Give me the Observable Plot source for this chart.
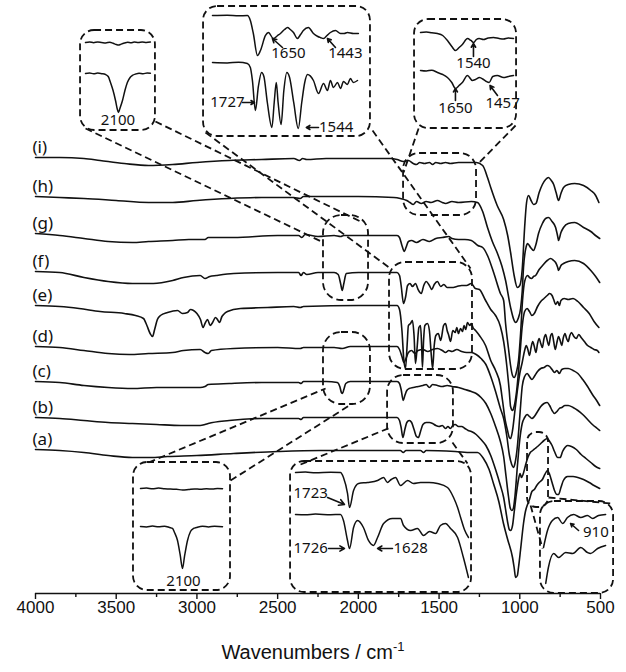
<!DOCTYPE html>
<html>
<head>
<meta charset="utf-8">
<script src="https://cdn.jsdelivr.net/npm/d3@7"></script>
<script src="https://cdn.jsdelivr.net/npm/@observablehq/plot@0.6"></script>
<style>
  body { margin: 0; background: #fff; }
  #wrap { position: relative; width: 626px; height: 672px; }
  #wrap svg { position: absolute; }
  .caption { position: absolute; left: 0; width: 626px; top: 639px; text-align: center;
             font: 20px "Liberation Sans", Arial, sans-serif; color: #111; }
  .caption sup { font-size: 13px; }
</style>
</head>
<body>
<div id="wrap"></div>
<script>
// ---- axis ticks (cm-1) ----
const majorTicks = [4000, 3500, 3000, 2500, 2000, 1500, 1000, 500];
const minorTicks = [3750, 3250, 2750, 2250, 1750, 1250, 750];

// ---- spectra: [wavenumber, relative transmittance (a.u.)], stacked by offset ----
const seriesIds = ["a", "b", "c", "d", "e", "f", "g", "h", "i"];
const seriesOffsets = [144, 176, 212, 247, 288, 322, 360, 397, 436];

const specA = [[4000,0],[3850,-1],[3700,-3],[3550,-6],[3400,-8],[3288,-8],[3182,-7],[3000,-6],[2773,-4],[2500,-2],[2234,-1],[2030,-1],[1800,-1],[1740,-1],[1722,-3],[1705,-1],[1615,-1],[1596,-3],[1580,-1],[1400,-2],[1300,-3],[1262,-3],[1225,-9],[1190,-20],[1163,-34],[1130,-52],[1101,-74],[1075,-90],[1045,-108],[1035,-118],[1026,-128],[1015,-126],[1008,-118],[995,-100],[977,-74],[965,-62],[952,-55],[940,-50],[925,-42],[910,-40],[895,-36],[880,-33],[860,-30],[845,-25],[828,-21],[815,-25],[800,-33],[785,-41],[770,-45],[760,-45],[745,-38],[730,-31],[704,-27],[670,-27],[640,-28],[605,-30],[570,-33],[540,-36],[505,-39]];

const specB = [[4000,0],[3850,-1],[3700,-3],[3550,-5],[3400,-6],[3250,-7],[3100,-8],[2980,-8],[2950,-7],[2930,-6],[2800,-3],[2600,-1],[2370,-1],[2355,-2],[2340,0],[1760,0],[1745,-3],[1735,-10],[1724,-20],[1712,-12],[1700,-5],[1685,-3],[1670,-5],[1655,-12],[1640,-19],[1628,-20],[1615,-14],[1600,-7],[1580,-5],[1560,-5],[1540,-6],[1520,-8],[1500,-9],[1480,-8],[1460,-11],[1445,-9],[1430,-11],[1415,-8],[1400,-7],[1380,-9],[1360,-9],[1340,-11],[1320,-13],[1300,-14],[1270,-17],[1240,-22],[1210,-28],[1180,-38],[1150,-52],[1120,-68],[1100,-80],[1085,-95],[1075,-105],[1065,-112],[1057,-113],[1045,-108],[1035,-95],[1020,-75],[1008,-62],[998,-56],[990,-60],[980,-57],[965,-48],[950,-40],[935,-35],[920,-33],[905,-31],[890,-29],[870,-26],[850,-23],[830,-21],[815,-24],[800,-28],[785,-34],[765,-40],[750,-40],[735,-34],[720,-30],[704,-28],[680,-29],[650,-32],[620,-37],[590,-41],[560,-45],[530,-49],[505,-51]];

const specC = [[4000,0],[3850,-1],[3700,-4],[3550,-6],[3400,-7],[3250,-6],[3100,-6],[2980,-6],[2950,-5],[2930,-3],[2800,-2],[2600,-1],[2370,-1],[2355,-2],[2340,0],[2200,0],[2130,-1],[2115,-5],[2105,-11],[2098,-12],[2090,-8],[2078,-2],[2050,0],[1760,0],[1745,-2],[1735,-8],[1722,-19],[1712,-14],[1700,-9],[1685,-7],[1660,-6],[1630,-5],[1600,-4],[1580,-3],[1560,-6],[1540,-3],[1510,-4],[1480,-5],[1450,-4],[1420,-5],[1380,-6],[1340,-8],[1300,-10],[1270,-12],[1240,-16],[1210,-22],[1180,-32],[1150,-45],[1120,-60],[1100,-75],[1085,-95],[1070,-115],[1060,-126],[1050,-129],[1040,-127],[1030,-115],[1015,-85],[1000,-58],[985,-42],[970,-36],[955,-33],[940,-35],[925,-37],[910,-35],[890,-30],[870,-25],[850,-22],[830,-21],[815,-24],[800,-29],[785,-32],[770,-30],[755,-27],[740,-26],[720,-24],[700,-24],[670,-26],[640,-29],[610,-33],[580,-38],[550,-43],[520,-47],[505,-49]];

const specD = [[4000,0],[3850,-1],[3700,-4],[3550,-7],[3420,-8],[3300,-7],[3150,-6],[3083,-4],[2980,-3],[2950,-6],[2930,-7],[2910,-4],[2773,-2],[2500,-1],[2360,-2],[2340,-1],[2150,-1],[2100,-2],[2050,0],[1760,0],[1745,-3],[1730,-10],[1718,-16],[1705,-12],[1690,-6],[1670,-4],[1650,-7],[1630,-4],[1600,-3],[1570,-5],[1540,-3],[1510,-2],[1480,-4],[1460,-6],[1440,-4],[1420,-5],[1390,-3],[1360,-5],[1330,-6],[1300,-6],[1270,-8],[1240,-12],[1210,-18],[1180,-30],[1150,-45],[1120,-62],[1100,-72],[1080,-90],[1065,-108],[1050,-118],[1040,-121],[1030,-117],[1015,-100],[1000,-70],[985,-40],[970,-30],[955,-27],[940,-30],[925,-33],[910,-30],[890,-25],[870,-22],[850,-21],[830,-19],[815,-20],[800,-23],[785,-26],[770,-24],[755,-27],[740,-23],[720,-22],[700,-22],[670,-24],[640,-27],[610,-33],[580,-40],[550,-48],[520,-55],[505,-59]];

const specE = [[4000,0],[3850,-1],[3730,-3],[3600,-6],[3450,-8],[3380,-10],[3331,-13],[3310,-20],[3290,-28],[3275,-31],[3262,-24],[3245,-14],[3226,-10],[3182,-7],[3120,-5],[3090,-8],[3058,-7],[3040,-4],[3021,-5],[3000,-8],[2978,-14],[2962,-22],[2950,-18],[2934,-14],[2918,-20],[2903,-17],[2885,-12],[2873,-14],[2860,-17],[2845,-11],[2835,-9],[2811,-6],[2730,-3],[2563,-2],[2400,-1],[2360,-2],[2340,-1],[2000,0],[1760,0],[1745,-4],[1730,-25],[1718,-55],[1708,-63],[1698,-40],[1690,-20],[1677,-18],[1665,-15],[1655,-30],[1646,-58],[1635,-40],[1625,-22],[1615,-20],[1608,-40],[1603,-62],[1596,-35],[1588,-20],[1572,-18],[1560,-25],[1548,-50],[1540,-63],[1530,-40],[1520,-30],[1505,-28],[1490,-35],[1472,-20],[1460,-18],[1450,-25],[1440,-30],[1429,-36],[1415,-25],[1400,-27],[1390,-22],[1380,-28],[1367,-23],[1355,-26],[1345,-20],[1335,-24],[1324,-17],[1310,-20],[1300,-18],[1290,-22],[1274,-25],[1250,-30],[1212,-40],[1180,-55],[1150,-65],[1120,-80],[1107,-95],[1090,-115],[1076,-125],[1065,-132],[1057,-133],[1045,-125],[1030,-105],[1015,-85],[1000,-68],[985,-57],[970,-45],[960,-40],[950,-44],[940,-50],[930,-42],[920,-36],[910,-41],[900,-47],[890,-38],[880,-33],[870,-38],[860,-42],[850,-33],[840,-29],[830,-35],[820,-40],[810,-31],[800,-28],[790,-36],[780,-44],[770,-37],[760,-31],[750,-35],[740,-40],[730,-32],[720,-28],[710,-33],[700,-36],[690,-30],[680,-27],[665,-31],[650,-33],[635,-29],[620,-32],[600,-36],[580,-40],[560,-42],[540,-44],[520,-45],[510,-47]];

const specF = [[4000,0],[3850,-1],[3700,-6],[3550,-10],[3400,-12],[3270,-12],[3150,-9],[3083,-6],[2980,-4],[2950,-7],[2920,-5],[2880,-4],[2773,-2],[2500,-1],[2370,-1],[2355,-4],[2340,-1],[2320,-3],[2250,-1],[2150,-1],[2125,-3],[2110,-12],[2100,-19],[2090,-12],[2075,-2],[2000,-1],[1760,-1],[1745,-4],[1735,-14],[1720,-32],[1708,-26],[1695,-14],[1680,-12],[1665,-15],[1646,-12],[1630,-18],[1610,-22],[1595,-14],[1580,-10],[1560,-14],[1545,-18],[1530,-13],[1510,-10],[1490,-15],[1470,-13],[1450,-16],[1420,-16],[1390,-15],[1360,-14],[1330,-14],[1300,-12],[1275,-17],[1250,-18],[1215,-28],[1180,-38],[1150,-44],[1120,-55],[1100,-70],[1080,-95],[1065,-120],[1057,-135],[1045,-139],[1035,-135],[1020,-120],[1000,-85],[985,-55],[970,-40],[955,-37],[940,-40],[925,-44],[910,-42],[890,-35],[870,-30],[850,-27],[830,-24],[815,-22],[800,-24],[790,-28],[778,-33],[765,-30],[755,-34],[745,-29],[725,-27],[700,-28],[670,-27],[640,-30],[605,-36],[570,-42],[540,-50],[510,-56]];

const specG = [[4000,0],[3850,-2],[3700,-5],[3550,-8],[3400,-9],[3300,-8],[3150,-7],[3050,-6],[2950,-6],[2930,-4],[2900,-4],[2773,-4],[2500,-2],[2370,-2],[2350,-4],[2330,-1],[2250,-3],[2150,-2],[2110,-3],[2090,-2],[2000,-2],[1760,-2],[1745,-4],[1730,-12],[1715,-18],[1705,-14],[1690,-8],[1670,-7],[1640,-9],[1600,-6],[1560,-8],[1520,-5],[1480,-4],[1440,-3],[1420,-5],[1380,-6],[1340,-6],[1300,-7],[1260,-12],[1230,-14],[1200,-22],[1160,-40],[1120,-60],[1100,-67],[1088,-90],[1070,-115],[1057,-132],[1045,-142],[1035,-144],[1020,-138],[1008,-127],[995,-100],[983,-67],[970,-48],[952,-42],[940,-44],[927,-45],[915,-43],[902,-42],[880,-36],[859,-32],[830,-27],[809,-25],[790,-27],[778,-29],[765,-34],[760,-37],[745,-32],[729,-30],[700,-28],[660,-27],[605,-30],[560,-37],[530,-43],[505,-49]];

const specH = [[4000,0],[3850,-1],[3700,-2],[3500,-4],[3300,-6],[3150,-6],[3000,-4],[2800,-2],[2600,-1],[2400,-1],[2360,-2],[2340,0],[2000,0],[1780,-1],[1740,-2],[1700,-4],[1680,-6],[1660,-8],[1640,-5],[1610,-7],[1580,-5],[1550,-6],[1510,-4],[1480,-6],[1460,-7],[1420,-5],[1380,-6],[1300,-5],[1262,-6],[1230,-15],[1200,-31],[1170,-45],[1138,-57],[1110,-70],[1088,-84],[1057,-111],[1035,-124],[1026,-126],[1010,-122],[995,-112],[985,-95],[977,-71],[960,-50],[952,-47],[933,-51],[915,-54],[900,-48],[884,-37],[860,-27],[840,-22],[822,-21],[800,-25],[778,-31],[765,-40],[760,-44],[745,-36],[729,-31],[700,-27],[660,-26],[605,-31],[560,-35],[531,-39],[505,-42]];

const specI = [[4000,0],[3850,0],[3700,-1],[3600,-3],[3450,-6],[3300,-8],[3150,-7],[3000,-5],[2800,-3],[2600,-2],[2400,-1],[2365,-3],[2345,-1],[2320,-2],[2200,-1],[2000,-1],[1800,-1],[1760,-2],[1720,-4],[1690,-3],[1660,-6],[1640,-7],[1620,-5],[1590,-6],[1560,-5],[1540,-7],[1520,-5],[1490,-6],[1460,-5],[1430,-6],[1380,-5],[1300,-5],[1270,-5],[1230,-8],[1200,-20],[1180,-30],[1140,-48],[1100,-62],[1075,-78],[1057,-95],[1035,-118],[1015,-130],[1000,-128],[985,-112],[970,-70],[958,-45],[946,-38],[930,-43],[915,-47],[900,-46],[880,-35],[860,-27],[840,-22],[822,-20],[805,-23],[790,-27],[775,-35],[760,-43],[745,-36],[729,-30],[700,-27],[660,-26],[605,-28],[560,-33],[530,-38],[510,-45]];

const spectra = [specA, specB, specC, specD, specE, specF, specG, specH, specI];

// ---- magnified views (inset curves), [wavenumber, a.u.] ----
const tlTop    = [[2300,0],[2275,0.6],[2250,-0.2],[2225,0.5],[2200,0],[2175,-0.4],[2150,0.2],[2130,-0.8],[2110,-2],[2097,-2.6],[2080,-1.6],[2060,-0.6],[2040,0.2],[2020,-0.3],[2000,0.4],[1975,0],[1950,0.5],[1925,0.1],[1900,0.4]];
const tlBottom = [[2300,0],[2275,0.5],[2250,-0.3],[2225,0.4],[2200,-0.2],[2177,-1],[2160,-3],[2146,-9],[2130,-17],[2115,-27],[2105,-35],[2097,-39],[2088,-35],[2072,-27],[2057,-17],[2042,-9],[2025,-4],[2011,-2],[1990,-0.5],[1970,0.3],[1945,-0.2],[1920,0.4],[1900,0.2]];

const tmTop    = [[1914,0],[1850,0.3],[1800,-0.3],[1762,0],[1749,-5],[1736,-18],[1718,-40],[1705,-35],[1683,-20],[1670,-17],[1649,-23],[1630,-20],[1618,-18],[1600,-14],[1587,-12],[1575,-14],[1561,-17],[1544,-23],[1530,-19],[1518,-15],[1496,-12],[1474,-18],[1455,-21],[1444,-22],[1430,-23],[1415,-20],[1400,-17],[1378,-15],[1356,-18],[1340,-18],[1326,-17],[1300,-18],[1278,-18]];
const tmBottom = [[1914,0],[1850,-0.4],[1800,0.3],[1762,-1],[1749,-5],[1740,-18],[1727,-48],[1714,-24],[1700,-10],[1690,-14],[1675,-40],[1655,-65],[1645,-40],[1636,-20],[1628,-40],[1615,-62],[1603,-28],[1590,-10],[1578,-15],[1560,-40],[1540,-66],[1525,-40],[1512,-20],[1500,-12],[1474,-18],[1452,-31],[1430,-21],[1413,-28],[1400,-18],[1387,-25],[1369,-20],[1356,-26],[1343,-19],[1326,-22],[1313,-16],[1300,-20],[1282,-18]];

const trTop    = [[1842,0],[1810,0.4],[1780,-0.3],[1749,-1],[1720,-3],[1694,-8],[1670,-14],[1650,-18],[1630,-15],[1612,-12],[1584,-6],[1565,-8],[1550,-10],[1535,-7],[1520,-6],[1496,-7],[1470,-5.5],[1441,-5],[1410,-6],[1386,-6.5],[1360,-5.5],[1331,-6]];
const trBottom = [[1842,0],[1810,-0.5],[1780,0.3],[1749,-2],[1720,-4],[1694,-7],[1670,-12],[1650,-18],[1630,-15],[1612,-12],[1584,-5],[1557,-10],[1540,-9],[1518,-7],[1496,-9],[1480,-11],[1465,-12],[1445,-6],[1420,-5],[1386,-7],[1360,-6],[1331,-5]];

const blTop    = [[2310,0],[2280,0.5],[2250,-0.3],[2220,0.4],[2190,-0.2],[2160,-0.6],[2130,-0.8],[2100,-1.5],[2070,-1],[2040,-0.4],[2010,-0.8],[1980,-0.2],[1950,-0.6],[1925,0],[1900,-0.3]];
const blBottom = [[2310,0],[2280,-0.4],[2250,0.4],[2220,-0.2],[2190,0.3],[2165,-1],[2150,-2],[2140,-6],[2125,-14],[2112,-28],[2100,-42],[2090,-30],[2075,-14],[2060,-5],[2045,-2],[2030,-1],[2000,0.3],[1970,-0.4],[1940,0.2],[1900,-0.2]];

const bmTop    = [[1939,0],[1900,0.4],[1860,-0.3],[1800,0.2],[1761,0],[1749,-5],[1733,-21],[1725,-35],[1709,-18],[1689,-11],[1654,-10],[1614,-8],[1590,-5],[1575,-10],[1560,-7],[1543,-5],[1523,-13],[1495,-8],[1472,-11],[1444,-10],[1410,-10],[1377,-11],[1337,-15],[1313,-25],[1297,-35],[1285,-45],[1270,-57],[1254,-65]];
const bmBottom = [[1939,0],[1900,-0.3],[1860,0.4],[1800,-0.2],[1761,0],[1749,-6],[1733,-26],[1725,-34],[1709,-13],[1693,-6],[1670,-13],[1650,-26],[1630,-31],[1614,-23],[1590,-9],[1555,-4],[1523,-4],[1511,-11],[1483,-16],[1456,-14],[1432,-21],[1408,-17],[1384,-19],[1365,-11],[1345,-9],[1325,-14],[1297,-23],[1274,-43],[1254,-63]];

const brTop    = [[960,50],[951,67],[940,77],[928,80],[917,74],[906,80],[892,83],[876,80],[861,82],[849,79],[836,82],[820,83]];
const brBottom = [[955,14],[949,30],[937,44],[926,40],[910,45],[894,44],[876,50],[861,45],[854,44],[838,49],[820,52]];

// ---- inset layout: frame [wn left, wn right, top, bottom] in main-chart units;
//      curves are [data, level] and labels/arrows use the same vertical units ----
const insets = [
  {frame: [3721, 3257, 563, 463], domain: [2300, 1900], pad: [5, 5],
   curves: [[tlTop, 551], [tlBottom, 520]],
   labels: [[2100, 473, "2100"]], arrows: []},
  {frame: [2959, 1925, 587, 457], domain: [1914, 1278], pad: [9, 12],
   curves: [[tmTop, 578], [tmBottom, 531]],
   labels: [[1583, 540, "1650"], [1335, 540, "1443"], [1849, 491, "1727"], [1375, 466, "1544"]],
   arrows: [[1609, 546, 1653, 555], [1378, 546, 1413, 555], [1783, 491, 1731, 491], [1452, 466, 1505, 466]]},
  {frame: [1652, 1020, 574, 465], domain: [1842, 1331], pad: [6, 3],
   curves: [[trTop, 561], [trBottom, 523]],
   labels: [[1551, 530, "1540"], [1650, 485, "1650"], [1391, 490, "1457"]],
   arrows: [[1551, 537, 1551, 550], [1650, 493, 1650, 505], [1419, 498, 1460, 508]]},
  {frame: [3393, 2792, 131, 3], domain: [2310, 1900], pad: [7, 8],
   curves: [[blTop, 105], [blBottom, 67]],
   labels: [[2095, 12, "2100"]], arrows: []},
  {frame: [2420, 1299, 132, 1], domain: [1939, 1254], pad: [5, 3],
   curves: [[bmTop, 121], [bmBottom, 79]],
   labels: [[1879, 100, "1723"], [1879, 45, "1726"], [1483, 45, "1628"]],
   arrows: [[1812, 96, 1745, 89], [1808, 45, 1745, 45], [1555, 45, 1614, 45]]},
  {frame: [872, 419, 92, 0], domain: [960, 820], pad: [3, 8],
   curves: [[brTop, -4], [brBottom, -4]],
   labels: [[842, 61, "910"]], arrows: [[881, 63, 899, 70]]}
];

// ---- dashed frames around the magnified regions: [wn left, wn right, top, bottom, radius] ----
const zoomFrames = [
  [2216, 1937, 378, 293, 18],
  [1807, 1293, 331, 224, 16],
  [1720, 1268, 440, 378, 16],
  [2216, 1925, 261, 189, 18],
  [1819, 1411, 218, 150, 16],
  [952, 822, 161, 86, 9]
];

// ---- dashed leader lines: [wn1, y1, wn2, y2] ----
const leaders = [
  [3690, 465, 2216, 351], [3257, 472, 1974, 371],
  [2947, 461, 1801, 325], [1912, 463, 1305, 325],
  [1627, 465, 1720, 421], [1026, 468, 1256, 430],
  [3300, 131, 2203, 205], [2792, 113, 2036, 190],
  [2358, 129, 1801, 166], [1417, 151, 1324, 130],
  [822, 96, 438, 90], [933, 88, 859, 45]
];

const INK = "#111";
const DASH = "7,4";
const yMin = 0;                // axis line level
const plotH = 630;
const axisPx = 593;

const rows = seriesIds.flatMap((id, k) =>
  spectra[k].map(([wn, t]) => ({id, wn, t: seriesOffsets[k] + t})));

const seriesLabels = seriesIds.map((id, k) => ({text: `(${id})`, y: seriesOffsets[k] + 10}));

const frameMarks = [...zoomFrames, ...insets.map(s => [...s.frame, 14])]
  .map(([x1, x2, y1, y2, r]) => Plot.rect([{x1, x2, y1, y2}], {
    x1: "x1", x2: "x2", y1: "y1", y2: "y2", rx: r,
    fill: "none", stroke: INK, strokeWidth: 1.8, strokeDasharray: DASH
  }));

const chart = Plot.plot({
  width: 626,
  height: plotH,
  marginLeft: 35,
  marginRight: 26,
  marginTop: 0,
  marginBottom: plotH - axisPx,
  style: {fontFamily: "'Liberation Sans', Arial, sans-serif", fontSize: "17px", color: INK, background: "#fff", overflow: "visible"},
  x: {domain: [4000, 500], label: null},
  y: {domain: [yMin, 593], axis: null},
  marks: [
    Plot.ruleY([yMin], {stroke: INK, strokeWidth: 1.4}),
    Plot.axisX(majorTicks, {tickSize: 6, tickPadding: 1, tickFormat: d => String(d), stroke: INK, strokeWidth: 1.4, label: null}),
    Plot.ruleX(minorTicks, {y1: yMin, y2: yMin - 4, stroke: INK, strokeWidth: 1.4}),
    Plot.line(rows, {x: "wn", y: "t", z: "id", curve: "monotone-x", stroke: INK, strokeWidth: 1.6}),
    Plot.text(seriesLabels, {x: 4000, y: "y", text: "text", dx: -3, textAnchor: "start",
      fontSize: 17, fontFamily: "'Noto Sans', sans-serif", fill: INK}),
    ...frameMarks,
    Plot.link(leaders, {x1: d => d[0], y1: d => d[1], x2: d => d[2], y2: d => d[3],
      stroke: INK, strokeWidth: 1.8, strokeDasharray: DASH})
  ]
});

const wrap = document.getElementById("wrap");
chart.style.left = "0px";
chart.style.top = "0px";
wrap.appendChild(chart);

const sx = chart.scale("x");
const sy = chart.scale("y");

// each magnified view is its own small plot, placed inside its dashed frame
for (const inset of insets) {
  const [w1, w2, t, b] = inset.frame;
  const left = sx.apply(w1), right = sx.apply(w2);
  const top = sy.apply(t), bottom = sy.apply(b);
  const w = right - left, h = bottom - top;
  const curveRows = inset.curves.flatMap(([data, base], k) =>
    data.map(([wn, v]) => ({k, wn, v: base + v})));
  const sub = Plot.plot({
    width: w, height: h,
    marginLeft: inset.pad[0], marginRight: inset.pad[1], marginTop: 0, marginBottom: 0,
    style: {background: "transparent", overflow: "visible"},
    x: {domain: inset.domain, axis: null},
    y: {domain: [b, t], axis: null},
    marks: [
      Plot.line(curveRows, {x: "wn", y: "v", z: "k", curve: "monotone-x", stroke: INK, strokeWidth: 1.5}),
      Plot.arrow(inset.arrows, {x1: d => d[0], y1: d => d[1], x2: d => d[2], y2: d => d[3],
        stroke: INK, strokeWidth: 1.6, headLength: 7}),
      Plot.text(inset.labels, {x: d => d[0], y: d => d[1], text: d => d[2],
        fontSize: 15, fontFamily: "'Noto Sans', sans-serif", fill: INK})
    ]
  });
  sub.style.left = left + "px";
  sub.style.top = top + "px";
  wrap.appendChild(sub);
}

const cap = document.createElement("div");
cap.className = "caption";
cap.innerHTML = "Wavenumbers / cm<sup>-1</sup>";
wrap.appendChild(cap);
</script>
</body>
</html>
